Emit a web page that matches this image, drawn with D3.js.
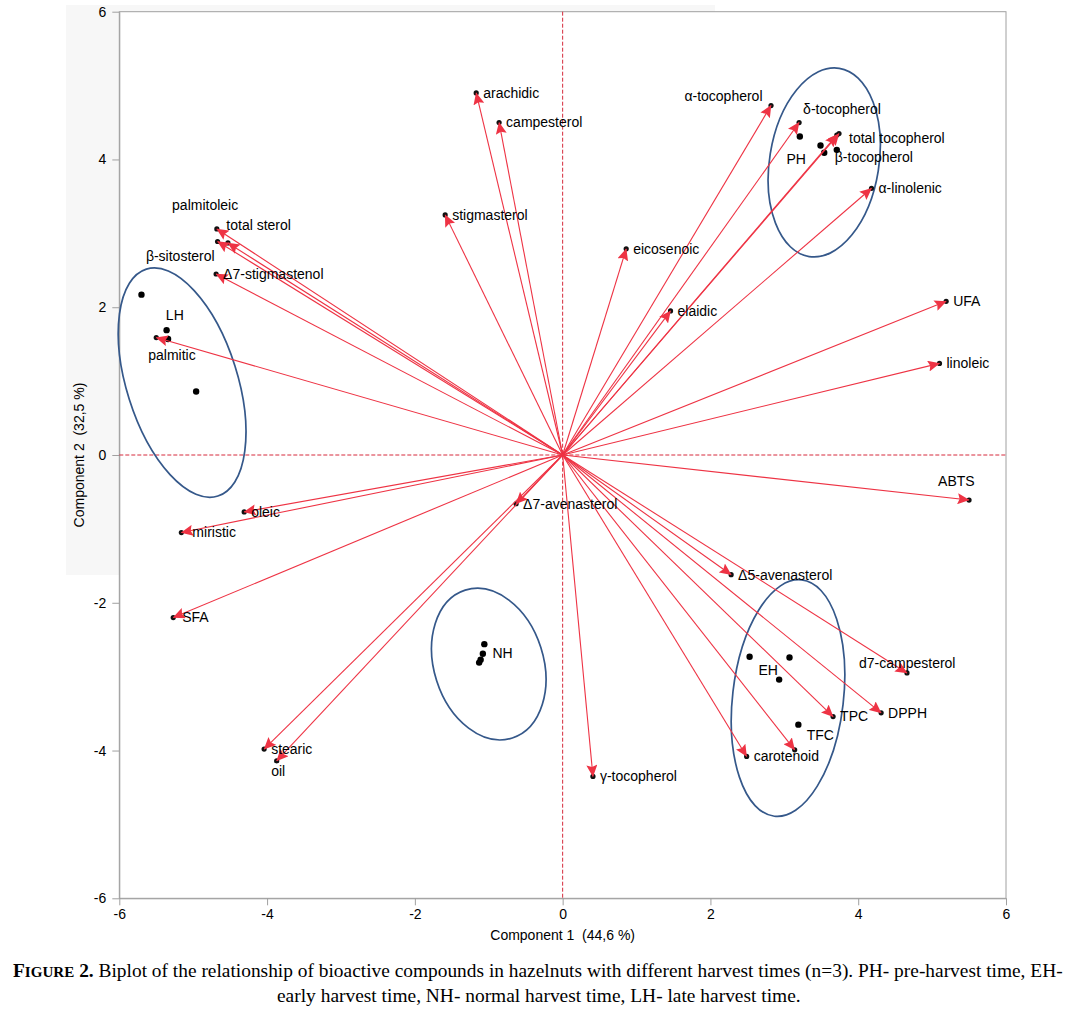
<!DOCTYPE html>
<html>
<head>
<meta charset="utf-8">
<script src="https://cdn.jsdelivr.net/npm/d3@7"></script>
<style>
    body { margin: 0; padding: 0; background: #fff; }
    svg text { font-family: "Liberation Sans", Arial, sans-serif; }
</style>
</head>
<body>
<svg id="chart" width="1068" height="1015"></svg>
<script>
    "use strict";

    /* loading vectors: name, component 1, component 2 */
    var variables = ["arachidic", "campesterol", "stigmasterol", "eicosenoic", "elaidic",
        "α-tocopherol", "δ-tocopherol", "total tocopherol", "β-tocopherol", "α-linolenic",
        "UFA", "linoleic", "ABTS", "Δ5-avenasterol", "d7-campesterol", "DPPH", "TPC", "TFC",
        "carotenoid", "γ-tocopherol", "Δ7-avenasterol", "stearic", "oil", "SFA", "miristic",
        "oleic", "palmitic", "Δ7-stigmastenol", "total sterol", "palmitoleic", "β-sitosterol"];
    var comp1 = [-1.17, -0.86, -1.59, 0.86, 1.46,
        2.82, 3.20, 3.74, 3.71, 4.18,
        5.19, 5.10, 5.50, 2.28, 4.66, 4.31, 3.66, 3.14,
        2.49, 0.41, -0.63, -4.04, -3.87, -5.27, -5.16,
        -4.31, -5.50, -4.69, -4.68, -4.67, -4.53];
    var comp2 = [4.90, 4.50, 3.25, 2.79, 1.95,
        4.73, 4.50, 4.35, 4.33, 3.61,
        2.08, 1.24, -0.61, -1.62, -2.95, -3.49, -3.54, -3.99,
        -4.08, -4.35, -0.66, -3.98, -4.14, -2.20, -1.05,
        -0.77, 1.59, 2.45, 3.06, 2.89, 2.87];

    /* observation scores per harvest time */
    var obsGroup = ["LH", "LH", "LH", "LH", "PH", "PH", "PH", "PH",
        "NH", "NH", "NH", "NH", "EH", "EH", "EH", "EH"];
    var obsX = [-5.70, -5.36, -5.34, -4.96, 3.21, 3.49, 3.54, 3.71,
        -1.06, -1.08, -1.11, -1.13, 2.53, 3.07, 2.93, 3.19];
    var obsY = [2.17, 1.69, 1.57, 0.86, 4.31, 4.19, 4.09, 4.13,
        -2.56, -2.69, -2.77, -2.81, -2.73, -2.74, -3.04, -3.65];

    /* confidence ellipses: center, semi axes, rotation (degrees, counter clockwise) */
    var groups = ["LH", "PH", "NH", "EH"];
    var ellCx = [-5.15, 3.54, -1.00, 3.05];
    var ellCy = [0.98, 3.96, -2.83, -3.29];
    var ellA = [1.61, 1.29, 1.05, 1.61];
    var ellB = [0.75, 0.74, 0.74, 0.75];
    var ellAngle = [-72.5, 80.9, -72.3, 83.4];
    var groupLabelX = [-5.37, 3.03, -0.95, 2.65];
    var groupLabelY = [1.90, 4.01, -2.68, -2.91];

    var ticks = [-6, -4, -2, 0, 2, 4, 6];

    /* label nudges in px relative to the vector end: [dx, dy, anchor] */
    var labelNudge = {
        "α-tocopherol": [-8.5, -9, "end"],
        "δ-tocopherol": [4, -13],
        "total tocopherol": [10, 4],
        "β-tocopherol": [-2, 22],
        "ABTS": [-31, -19],
        "d7-campesterol": [-48, -10],
        "TFC": [12, -15],
        "oil": [-5.5, 10],
        "palmitic": [-8, 18],
        "total sterol": [9.5, -3.5],
        "palmitoleic": [-45.5, -36.5],
        "β-sitosterol": [-82, 13],
        "SFA": [9, 0],
        "miristic": [11, 0]
    };

    var red = "#ee3344";
    var svg = d3.select("#chart");

    var x = d3.scaleLinear().domain([-6, 6]).range([119.3, 1006]);
    var y = d3.scaleLinear().domain([-6, 6]).range([898.3, 11.7]);
    var k = x(1) - x(0);

    /* grey panel behind the plot (left of the frame) */
    svg.append("rect").attr("x", 66).attr("y", 5).attr("width", 649).attr("height", 570)
        .attr("fill", "#f7f7f7");
    svg.append("rect").attr("x", x(-6)).attr("y", y(6))
        .attr("width", x(6) - x(-6)).attr("height", y(-6) - y(6))
        .attr("fill", "#fff").attr("stroke", "#a0a0a0").attr("stroke-width", 1);

    /* axes */
    var xAxis = d3.axisBottom(x).tickValues(ticks).tickSize(7).tickSizeOuter(0).tickPadding(4)
        .tickFormat(d3.format("d"));
    var yAxis = d3.axisLeft(y).tickValues(ticks).tickSize(7).tickSizeOuter(0).tickPadding(6)
        .tickFormat(d3.format("d"));
    var gx = svg.append("g").attr("transform", "translate(0," + y(-6) + ")").call(xAxis);
    var gy = svg.append("g").attr("transform", "translate(" + x(-6) + ",0)").call(yAxis);
    [gx, gy].forEach(function (g) {
        g.selectAll("path, line").attr("stroke", "#a0a0a0");
        g.selectAll("text").attr("fill", "#000").style("font-size", "14px")
            .style("font-family", "'Liberation Sans', Arial, sans-serif");
    });
    gx.selectAll("text").text(function (d) { return d < 0 ? "-" + Math.abs(d) : d; });
    gy.selectAll("text").text(function (d) { return d < 0 ? "-" + Math.abs(d) : d; });

    svg.append("text").attr("x", (x(-6) + x(6)) / 2).attr("y", 940)
        .attr("text-anchor", "middle").style("font-size", "14px").style("white-space", "pre")
        .text("Component 1  (44,6 %)");
    svg.append("text")
        .attr("transform", "translate(84," + (y(-6) + y(6)) / 2 + ") rotate(-90)")
        .attr("text-anchor", "middle").style("font-size", "14px").style("white-space", "pre")
        .text("Component 2  (32,5 %)");

    /* dashed zero lines */
    svg.append("line").attr("x1", x(-6)).attr("x2", x(6)).attr("y1", y(0)).attr("y2", y(0))
        .attr("stroke", "#d62a3c").attr("stroke-width", 1).attr("stroke-dasharray", "4,2");
    svg.append("line").attr("x1", x(0)).attr("x2", x(0)).attr("y1", y(6)).attr("y2", y(-6))
        .attr("stroke", "#d62a3c").attr("stroke-width", 1).attr("stroke-dasharray", "4,2");

    /* ellipses */
    svg.append("g").selectAll("ellipse").data(groups).enter().append("ellipse")
        .attr("transform", function (d, i) {
            return "translate(" + x(ellCx[i]) + "," + y(ellCy[i]) + ") rotate(" + (-ellAngle[i]) + ")";
        })
        .attr("rx", function (d, i) { return ellA[i] * k; })
        .attr("ry", function (d, i) { return ellB[i] * k; })
        .attr("fill", "none").attr("stroke", "#35588a").attr("stroke-width", 1.7);

    /* observations */
    svg.append("g").selectAll("circle").data(obsGroup).enter().append("circle")
        .attr("cx", function (d, i) { return x(obsX[i]); })
        .attr("cy", function (d, i) { return y(obsY[i]); })
        .attr("r", 3.2).attr("fill", "#000");

    svg.append("g").selectAll("text").data(groups).enter().append("text")
        .attr("x", function (d, i) { return x(groupLabelX[i]); })
        .attr("y", function (d, i) { return y(groupLabelY[i]); })
        .attr("dy", "0.35em").style("font-size", "14px").text(function (d) { return d; });

    /* vectors */
    var defs = svg.append("defs");
    defs.append("marker").attr("id", "head").attr("markerUnits", "userSpaceOnUse")
        .attr("viewBox", "0 0 12 11").attr("refX", 11.5).attr("refY", 5.5)
        .attr("markerWidth", 12).attr("markerHeight", 11).attr("orient", "auto")
        .append("path").attr("d", "M0,0 L12,5.5 L0,11 L2,5.5 Z").attr("fill", red);

    svg.append("g").selectAll("circle").data(variables).enter().append("circle")
        .attr("cx", function (d, i) { return x(comp1[i]); })
        .attr("cy", function (d, i) { return y(comp2[i]); })
        .attr("r", 2.6).attr("fill", "#111");

    svg.append("g").selectAll("line").data(variables).enter().append("line")
        .attr("x1", x(0)).attr("y1", y(0))
        .attr("x2", function (d, i) { return x(comp1[i]); })
        .attr("y2", function (d, i) { return y(comp2[i]); })
        .attr("stroke", red).attr("stroke-width", 1.1)
        .attr("marker-end", "url(#head)");

    svg.append("g").selectAll("text").data(variables).enter().append("text")
        .attr("x", function (d, i) { var n = labelNudge[d] || [7, 0]; return x(comp1[i]) + n[0]; })
        .attr("y", function (d, i) { var n = labelNudge[d] || [7, 0]; return y(comp2[i]) + n[1]; })
        .attr("dy", "0.35em")
        .attr("text-anchor", function (d) { var n = labelNudge[d]; return n && n[2] ? n[2] : "start"; })
        .style("font-size", "14px").attr("fill", "#000")
        .text(function (d) { return d; });

    /* figure caption */
    var serif = "'Liberation Serif', 'Times New Roman', serif";
    var cap1 = svg.append("text").attr("x", 0).attr("y", 0)
        .style("font-family", serif).style("font-size", "18px");
    cap1.append("tspan").style("font-weight", "bold").text("F");
    cap1.append("tspan").style("font-weight", "bold").style("font-size", "14px").text("IGURE");
    cap1.append("tspan").style("font-weight", "bold").text(" 2.");
    cap1.append("tspan").text(" Biplot of the relationship of bioactive compounds in hazelnuts with different harvest times (n=3). PH- pre-harvest time, EH-");
    var cap2 = svg.append("text").attr("x", 0).attr("y", 0)
        .style("font-family", serif).style("font-size", "18px")
        .text("early harvest time, NH- normal harvest time, LH- late harvest time.");

    /* squeeze the caption lines to the width they take in the figure */
    function fitLine(t, left, right, base) {
        var w = t.node().getBBox().width;
        t.attr("transform", "translate(" + left + "," + base + ") scale(" + ((right - left) / w) + ",1)");
    }
    fitLine(cap1, 13, 1063, 977);
    fitLine(cap2, 277, 801, 1002);
</script>
</body>
</html>
